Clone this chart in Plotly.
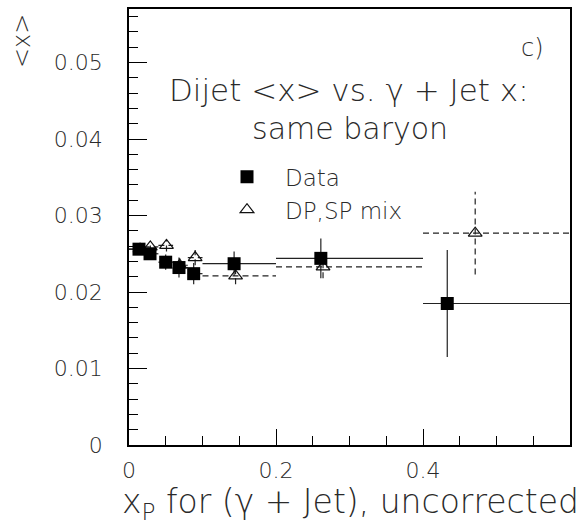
import plotly.graph_objects as go

# ---- data ----
bin_lo = [0.0, 0.02, 0.04, 0.06, 0.08, 0.1, 0.2, 0.4]
bin_hi = [0.02, 0.04, 0.06, 0.08, 0.1, 0.2, 0.4, 0.6]

data_x = [0.0136, 0.0286, 0.0499, 0.068, 0.088, 0.143, 0.261, 0.433]
data_y = [0.0256, 0.0250, 0.0239, 0.0232, 0.0224, 0.0237, 0.0244, 0.0185]
data_ey = [0.0005, 0.0007, 0.0010, 0.0013, 0.0014, 0.0016, 0.0026, 0.0070]

mix_x = [0.015, 0.029, 0.051, 0.069, 0.090, 0.145, 0.264, 0.471]
mix_y = [0.0256, 0.0259, 0.0261, 0.0235, 0.0245, 0.0221, 0.0233, 0.0277]
mix_ey = [0.0004, 0.0006, 0.0008, 0.0009, 0.0010, 0.0011, 0.0015, 0.0054]

x_ticks = [0, 0.2, 0.4]
x_ticklabels = ["0", "0.2", "0.4"]
y_ticks = [0, 0.01, 0.02, 0.03, 0.04, 0.05]
y_ticklabels = ["0", "0.01", "0.02", "0.03", "0.04", "0.05"]

FONT = "DejaVu Sans"
TXT = "#2a2a2a"


def err_segments(xs, ys, eys, lo, hi):
    sx, sy = [], []
    for x, y, e, a, b in zip(xs, ys, eys, lo, hi):
        sx += [a, b, None, x, x, None]
        sy += [y, y, None, y - e, y + e, None]
    return sx, sy


fig = go.Figure()

mx, my = err_segments(mix_x, mix_y, mix_ey, bin_lo, bin_hi)
fig.add_trace(go.Scatter(x=mx, y=my, mode="lines", showlegend=False,
                         line=dict(color="#222", width=1.2, dash="6px,4px"),
                         hoverinfo="skip"))
dx, dy = err_segments(data_x, data_y, data_ey, bin_lo, bin_hi)
fig.add_trace(go.Scatter(x=dx, y=dy, mode="lines", showlegend=False,
                         line=dict(color="#222", width=1.2), hoverinfo="skip"))

fig.add_trace(go.Scatter(x=mix_x, y=mix_y, mode="markers", name="DP,SP mix",
                         marker=dict(symbol="triangle-up-open", size=12,
                                     color="#111", line=dict(width=1.2))))
fig.add_trace(go.Scatter(x=data_x, y=data_y, mode="markers", name="Data",
                         marker=dict(symbol="square", size=13, color="black")))

axis_common = dict(
    showgrid=False, zeroline=False, showline=True, linecolor="black",
    linewidth=1.5, mirror=True, ticks="inside", tickcolor="black",
    tickfont=dict(family=FONT, size=22, color=TXT, weight=200),
)

fig.update_xaxes(range=[0, 0.6], tickvals=x_ticks, ticktext=x_ticklabels,
                 ticklen=16, tickwidth=1.2, ticklabelstandoff=5,
                 minor=dict(dtick=0.05, tick0=0, ticks="inside", ticklen=9,
                            tickcolor="black", tickwidth=1.2),
                 **axis_common)
fig.update_yaxes(range=[0, 0.057], tickvals=y_ticks, ticktext=y_ticklabels,
                 ticklen=18, tickwidth=1.2, ticklabelstandoff=20,
                 minor=dict(dtick=0.002, tick0=0, ticks="inside", ticklen=9,
                            tickcolor="black", tickwidth=1.2),
                 **axis_common)

L, R, T, B = 129, 16, 7, 79
W, H = 586, 524
pw, ph = W - L - R, H - T - B


def px(xp):
    return (xp - L) / pw


def py(yp):
    return (H - B - yp) / ph


annots = [
    dict(text="c)", x=px(546), y=py(46), xanchor="right", yanchor="middle", size=24),
    dict(text="Dijet &lt;x&gt; vs. γ + Jet x:", x=px(349), y=py(88),
         xanchor="center", yanchor="middle", size=31),
    dict(text="same baryon", x=px(350), y=py(127), xanchor="center",
         yanchor="middle", size=30),
    dict(text="x<sub>P</sub> for (γ + Jet), uncorrected", x=px(581), y=py(504),
         xanchor="right", yanchor="middle", size=33),
]
for a in annots:
    fig.add_annotation(text=a["text"], x=a["x"], y=a["y"], xref="paper",
                       yref="paper", xanchor=a["xanchor"], yanchor=a["yanchor"],
                       showarrow=False,
                       font=dict(family=FONT, size=a["size"], color=TXT, weight=200))

fig.add_annotation(text="&lt;x&gt;", textangle=-90, x=px(22), y=py(10),
                   xref="paper", yref="paper", xanchor="center", yanchor="top",
                   showarrow=False,
                   font=dict(family=FONT, size=24, color=TXT, weight=200))

fig.update_layout(
    width=W, height=H,
    margin=dict(l=L, r=R, t=T, b=B),
    paper_bgcolor="white", plot_bgcolor="white",
    showlegend=True,
    legend=dict(x=px(209), y=py(154), xanchor="left", yanchor="top",
                traceorder="reversed", bgcolor="rgba(0,0,0,0)",
                font=dict(family=FONT, size=23, color=TXT, weight=200),
                itemwidth=66),
)

fig.write_html("out.html")
